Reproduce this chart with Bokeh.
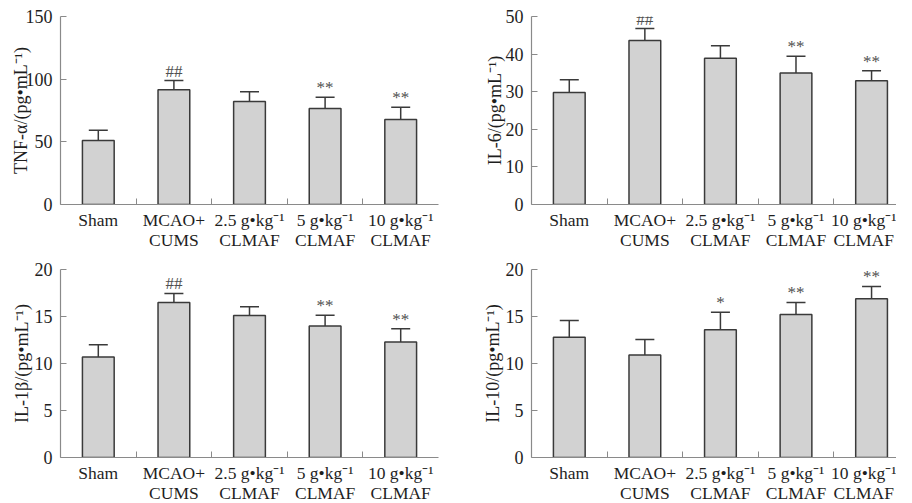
from bokeh.plotting import figure
from bokeh.models import Range1d, FixedTicker, ColumnDataSource, Whisker, TeeHead
from bokeh.layouts import column, row
from bokeh.embed import file_html
from bokeh.resources import INLINE
from bokeh.core.properties import value

categories = ["Sham", "MCAO+\nCUMS", "2.5 g\u2022kg\u207b\u00b9\nCLMAF",
              "5 g\u2022kg\u207b\u00b9\nCLMAF", "10 g\u2022kg\u207b\u00b9\nCLMAF"]

tnf_mean = [51.1, 91.5, 82.2, 76.6, 67.8]
tnf_upper = [59.3, 98.9, 89.9, 85.6, 77.6]
tnf_sig = ["", "##", "", "**", "**"]

il6_mean = [29.8, 43.6, 38.9, 35.0, 32.9]
il6_upper = [33.2, 46.8, 42.2, 39.4, 35.6]
il6_sig = ["", "##", "", "**", "**"]

il1b_mean = [10.7, 16.5, 15.1, 14.0, 12.3]
il1b_upper = [12.0, 17.45, 16.03, 15.14, 13.7]
il1b_sig = ["", "##", "", "**", "**"]

il10_mean = [12.8, 10.9, 13.6, 15.2, 16.9]
il10_upper = [14.57, 12.55, 15.46, 16.5, 18.2]
il10_sig = ["", "", "*", "**", "**"]

FONT = "Liberation Serif"
TXT = "#1e1e1e"
AX = "#8a8a8a"


def panel(means, uppers, sigs, ymax, ystep, ylabel, fwidth, x_end, top, bottom, lab_off):
    n = len(categories)
    xs = [i + 0.5 for i in range(n)]
    p = figure(frame_width=fwidth, frame_height=188, output_backend="svg", toolbar_location=None,
               x_range=Range1d(0, x_end), y_range=Range1d(0, ymax),
               min_border_left=60, min_border_right=0 if x_end < 5 else 33,
               min_border_top=top, min_border_bottom=bottom)
    p.outline_line_color = None
    p.xgrid.grid_line_color = None
    p.ygrid.grid_line_color = None
    p.background_fill_color = "white"

    src = ColumnDataSource(dict(x=xs, top=means, upper=uppers, sig=sigs))
    p.vbar(x="x", top="top", width=0.42, bottom=0, source=src,
           fill_color="#d2d2d2", line_color="#3a3a3a", line_width=1.5)
    w = Whisker(base="x", lower="top", upper="upper", source=src,
                line_color="#3a3a3a", line_width=1.5,
                upper_head=TeeHead(size=19, line_color="#3a3a3a", line_width=1.5),
                lower_head=None)
    p.add_layout(w)
    p.text(x="x", y="upper", text="sig", source=src, text_align="center",
           text_baseline="bottom", y_offset=0, text_font=value(FONT),
           text_font_size="17px", text_color="#505050")

    xa = p.xaxis[0]
    xa.ticker = FixedTicker(ticks=xs, minor_ticks=[i for i in range(1, n)])
    xa.major_label_overrides = {x: c for x, c in zip(xs, categories)}
    xa.major_tick_in = 0
    xa.major_tick_out = 0
    xa.minor_tick_in = 6
    xa.minor_tick_out = 0
    xa.minor_tick_line_color = AX
    xa.axis_line_color = AX
    xa.axis_line_width = 1.2
    xa.major_label_text_font = FONT
    xa.major_label_text_font_size = "17.5px"
    xa.major_label_text_color = TXT
    xa.major_label_text_line_height = 1.0
    xa.major_label_standoff = 5

    ya = p.yaxis[0]
    ya.ticker = FixedTicker(ticks=list(range(0, ymax + 1, ystep)), minor_ticks=[])
    ya.major_tick_in = 6
    ya.major_tick_out = 0
    ya.major_tick_line_color = AX
    ya.axis_line_color = AX
    ya.axis_line_width = 1.2
    ya.major_label_text_font = FONT
    ya.major_label_text_font_size = "18px"
    ya.major_label_text_color = TXT
    ya.major_label_standoff = 8
    ya.axis_label = ylabel
    ya.axis_label_text_font = FONT
    ya.axis_label_text_font_style = "normal"
    ya.axis_label_text_font_size = "18px"
    ya.axis_label_text_color = TXT
    ya.axis_label_standoff = lab_off
    return p


p1 = panel(tnf_mean, tnf_upper, tnf_sig, 150, 50, "TNF-\u03b1/(pg\u2022mL\u207b\u00b9)",
           378, 5, 16, 50, -8)
p2 = panel(il6_mean, il6_upper, il6_sig, 50, 10, "IL-6/(pg\u2022mL\u207b\u00b9)",
           365, 4.83, 16, 50, -2)
p3 = panel(il1b_mean, il1b_upper, il1b_sig, 20, 5, "IL-1\u03b2/(pg\u2022mL\u207b\u00b9)",
           378, 5, 15, 36, 0)
p4 = panel(il10_mean, il10_upper, il10_sig, 20, 5, "IL-10/(pg\u2022mL\u207b\u00b9)",
           365, 4.83, 15, 36, 0)

layout = column(row(p1, p2), row(p3, p4))
open("out.html", "w").write(file_html(layout, INLINE))
